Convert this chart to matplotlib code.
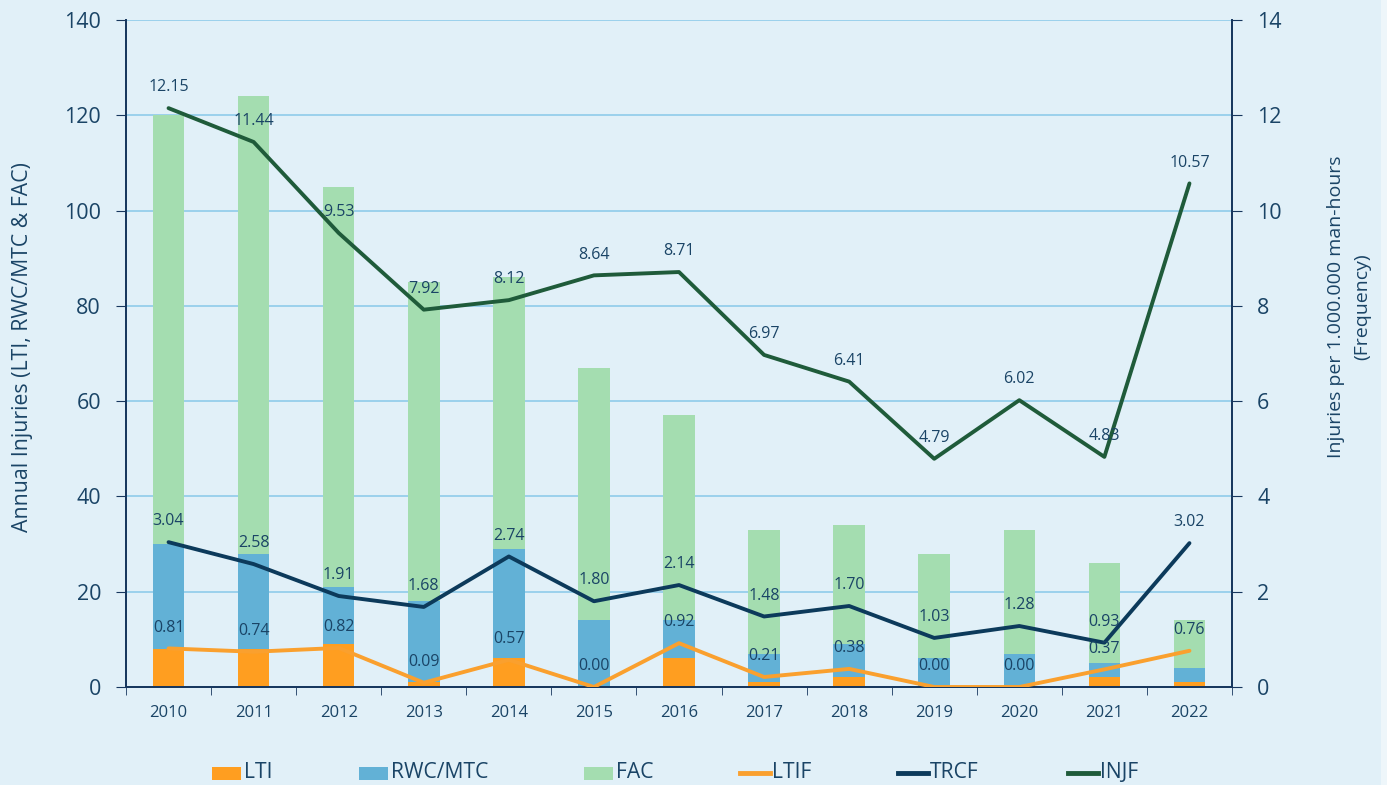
import matplotlib
matplotlib.use("Agg")
import matplotlib.pyplot as plt
import numpy as np
from matplotlib.patches import Rectangle
from matplotlib.lines import Line2D

years = ["2010", "2011", "2012", "2013", "2014", "2015", "2016",
         "2017", "2018", "2019", "2020", "2021", "2022"]
LTI = [8, 8, 9, 1, 6, 0, 6, 1, 2, 0, 0, 2, 1]
RWC_MTC = [22, 20, 12, 17, 23, 14, 8, 6, 7, 6, 7, 3, 3]
FAC = [90, 96, 84, 67, 57, 53, 43, 26, 25, 22, 26, 21, 10]
LTIF = [0.81, 0.74, 0.82, 0.09, 0.57, 0.00, 0.92, 0.21, 0.38, 0.00, 0.00, 0.37, 0.76]
TRCF = [3.04, 2.58, 1.91, 1.68, 2.74, 1.80, 2.14, 1.48, 1.70, 1.03, 1.28, 0.93, 3.02]
INJF = [12.15, 11.44, 9.53, 7.92, 8.12, 8.64, 8.71, 6.97, 6.41, 4.79, 6.02, 4.83, 10.57]

plt.rcParams['font.family'] = ['Open Sans', 'DejaVu Sans']

BG = '#E1F0F8'
TXT = '#1A4466'
SPINE = '#17375E'
C_LTI = '#FF9E20'
C_RWC = '#62B1D6'
C_FAC = '#A4DDB0'
C_LTIF = '#FAA02E'
C_TRCF = '#0C3A5B'
C_INJF = '#1F5B3A'
GRID = '#8FCBEA'

fig = plt.figure(figsize=(13.87, 7.85), dpi=100)
fig.patch.set_facecolor(BG)
fig.add_artist(Rectangle((1381/1387, 0), 6/1387, 1, transform=fig.transFigure,
                         facecolor='#EEF6FA', edgecolor='none', zorder=0))

L, R, B, T = 126/1387, 1232/1387, 1 - 687/785, 1 - 20/785
ax = fig.add_axes([L, B, R - L, T - B])
ax.set_facecolor(BG)
ax2 = ax.twinx()

x = np.arange(len(years))
w = 0.37
lti = np.array(LTI)
rwc = np.array(RWC_MTC)
fac = np.array(FAC)
ax.bar(x, lti, w, color=C_LTI, zorder=2)
ax.bar(x, rwc, w, bottom=lti, color=C_RWC, zorder=2)
ax.bar(x, fac, w, bottom=lti + rwc, color=C_FAC, zorder=2)

ax.set_xlim(-0.5, len(years) - 0.5)
ax.set_ylim(0, 140)
ax.set_yticks(np.arange(0, 141, 20))
ax.yaxis.grid(True, color=GRID, lw=1.2, zorder=0)
ax.set_axisbelow(True)

ax2.set_ylim(0, 14)
ax2.set_yticks(np.arange(0, 15, 2))

for vals, col in [(LTIF, C_LTIF), (TRCF, C_TRCF), (INJF, C_INJF)]:
    ax2.plot(x, vals, color=col, lw=2.8, solid_capstyle='round', zorder=3)
for vals in [LTIF, TRCF, INJF]:
    for xi, v in zip(x, vals):
        ax2.annotate(f"{v:.2f}", (xi, v), xytext=(0, 15), textcoords='offset points',
                     ha='center', va='center', fontsize=11.5, color=TXT, zorder=5)

ax.set_xticks(x)
ax.set_xticklabels(years)
ax.set_xticks(np.arange(-0.5, len(years), 1), minor=True)
ax.tick_params(axis='x', which='major', length=0, pad=13, labelsize=12, labelcolor=TXT)
ax.tick_params(axis='x', which='minor', length=6, color=SPINE, direction='out')
ax.tick_params(axis='y', length=7, color=SPINE, pad=11, labelsize=15.5, labelcolor=TXT)
ax2.tick_params(axis='y', length=7, color=SPINE, pad=11, labelsize=15.5, labelcolor=TXT)

for a in (ax, ax2):
    a.spines['top'].set_visible(False)
    for s in ('left', 'right', 'bottom'):
        a.spines[s].set_color(SPINE)
        a.spines[s].set_linewidth(1.3)

ax.set_ylabel("Annual Injuries (LTI, RWC/MTC & FAC)", fontsize=15.3, color=TXT)
ax.yaxis.set_label_coords(-0.084, 0.51)
ax2.set_ylabel("Injuries per 1.000.000 man-hours\n(Frequency)", fontsize=14, color=TXT,
               rotation=90, linespacing=1.6)
ax2.yaxis.set_label_coords(1.086, 0.57)

# legend (manual, figure coordinates)
legend_items = [('patch', C_LTI, 212, 'LTI'), ('patch', C_RWC, 359, 'RWC/MTC'),
                ('patch', C_FAC, 584, 'FAC'), ('line', C_LTIF, 740, 'LTIF'),
                ('line', C_TRCF, 898, 'TRCF'), ('line', C_INJF, 1068, 'INJF')]
W, H = 1387, 785
yc = 1 - 773/H
for kind, col, x0, lab in legend_items:
    if kind == 'patch':
        fig.add_artist(Rectangle((x0/W, yc - 6.5/H), 29/W, 13/H, transform=fig.transFigure,
                                 facecolor=col, edgecolor='none'))
    else:
        fig.add_artist(Line2D([x0/W, (x0 + 30)/W], [yc, yc], transform=fig.transFigure,
                              color=col, lw=3.5))
    fig.text((x0 + 32)/W, yc, lab, ha='left', va='center', fontsize=15.2, color=TXT)

fig.savefig("out.png", dpi=100, facecolor=BG)
